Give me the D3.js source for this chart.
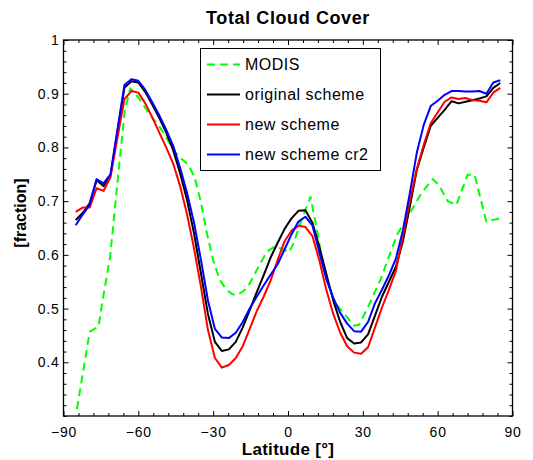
<!DOCTYPE html>
<html>
<head>
<meta charset="utf-8">
<script src="https://cdn.jsdelivr.net/npm/d3@7"></script>
<style>
  html, body { margin: 0; padding: 0; background: #fff; }
  svg { display: block; }
  text { font-family: "Liberation Sans", Arial, Helvetica, sans-serif; fill: #000; }
</style>
</head>
<body>
<div id="chart"></div>
<script>
// ---------------- data ----------------
const title = "Total Cloud Cover";
const xLabel = "Latitude [\u00B0]";
const yLabel = "[fraction]";
const seriesNames = ["MODIS", "original scheme", "new scheme", "new scheme cr2"];
const seriesColors = ["#00ff00", "#000000", "#ff0000", "#0000ff"];

const xTicks = [-90, -60, -30, 0, 30, 60, 90];
const yTicks = [0.4, 0.5, 0.6, 0.7, 0.8, 0.9, 1];

// model latitudes (T42 Gaussian grid)
const modelLat = [
  -85.10, -82.31, -79.53, -76.74, -73.95, -71.16, -68.37, -65.58, -62.79, -60.00,
  -57.21, -54.42, -51.63, -48.84, -46.04, -43.25, -40.46, -37.67, -34.88, -32.09,
  -29.30, -26.51, -23.72, -20.93, -18.14, -15.35, -12.56, -9.77, -6.98, -4.19,
  -1.40, 1.40, 4.19, 6.98, 9.77, 12.56, 15.35, 18.14, 20.93, 23.72,
  26.51, 29.30, 32.09, 34.88, 37.67, 40.46, 43.25, 46.04, 48.84, 51.63,
  54.42, 57.21, 60.00, 62.79, 65.58, 68.37, 71.16, 73.95, 76.74, 79.53,
  82.31, 85.10
];

const originalScheme = [
  0.665, 0.678, 0.696, 0.739, 0.728, 0.748, 0.830, 0.911, 0.923, 0.921,
  0.903, 0.880, 0.855, 0.828, 0.795, 0.752, 0.702, 0.640, 0.565, 0.490,
  0.438, 0.421, 0.424, 0.438, 0.465, 0.497, 0.530, 0.562, 0.595, 0.622,
  0.648, 0.668, 0.682, 0.683, 0.660, 0.615, 0.565, 0.515, 0.475, 0.445,
  0.435, 0.437, 0.452, 0.487, 0.522, 0.550, 0.578, 0.625, 0.690, 0.758,
  0.800, 0.840, 0.855, 0.870, 0.886, 0.882, 0.885, 0.888, 0.891, 0.895,
  0.911, 0.920
];

const newScheme = [
  0.680, 0.688, 0.688, 0.724, 0.719, 0.745, 0.818, 0.890, 0.905, 0.902,
  0.882, 0.856, 0.828, 0.800, 0.770, 0.728, 0.675, 0.612, 0.540, 0.460,
  0.408, 0.390, 0.395, 0.408, 0.430, 0.462, 0.495, 0.522, 0.552, 0.590,
  0.625, 0.645, 0.654, 0.652, 0.635, 0.590, 0.535, 0.490, 0.455, 0.430,
  0.418, 0.416, 0.428, 0.465, 0.502, 0.535, 0.570, 0.635, 0.700, 0.760,
  0.805, 0.845, 0.865, 0.885, 0.893, 0.890, 0.892, 0.888, 0.887, 0.884,
  0.902, 0.911
];

const newSchemeCr2 = [
  0.655, 0.675, 0.693, 0.741, 0.733, 0.750, 0.833, 0.916, 0.927, 0.924,
  0.907, 0.884, 0.860, 0.833, 0.803, 0.762, 0.715, 0.660, 0.590, 0.515,
  0.462, 0.446, 0.445, 0.455, 0.475, 0.500, 0.522, 0.543, 0.563, 0.582,
  0.610, 0.638, 0.662, 0.671, 0.655, 0.605, 0.555, 0.520, 0.492, 0.472,
  0.458, 0.457, 0.475, 0.510, 0.535, 0.562, 0.593, 0.645, 0.715, 0.790,
  0.842, 0.877, 0.887, 0.898, 0.905, 0.905, 0.904, 0.904, 0.905, 0.900,
  0.921, 0.925
];

// MODIS observations
const modisLat = [
  -84.6, -79.5, -76.0, -74.5, -71.3, -68.0, -65.4, -63.2, -60, -57,
  -54, -51, -48, -45, -42.5, -40, -37.5, -35, -32.5, -30,
  -27.5, -25, -22.5, -20.5, -18, -16, -12.5, -8.5, -5.5, -3,
  0.5, 2.5, 5, 9, 11.5, 14, 16.5, 19, 23.5, 26.5,
  28.5, 31.5, 37, 41.5, 44, 46, 49.5, 53.5, 58, 60.5,
  64, 67.5, 72, 74.8, 79.5, 85
];
const modis = [
  0.313, 0.457, 0.466, 0.510, 0.597, 0.752, 0.870, 0.910, 0.893, 0.872,
  0.853, 0.835, 0.812, 0.790, 0.778, 0.768, 0.745, 0.700, 0.640, 0.590,
  0.555, 0.537, 0.527, 0.525, 0.532, 0.541, 0.572, 0.606, 0.615, 0.612,
  0.605, 0.625, 0.660, 0.708, 0.650, 0.580, 0.540, 0.510, 0.485, 0.468,
  0.470, 0.497, 0.553, 0.610, 0.640, 0.655, 0.683, 0.715, 0.741, 0.730,
  0.700, 0.693, 0.749, 0.749, 0.662, 0.668
];

// ---------------- chart ----------------
const W = 533, H = 460;
const L = 63.5, R = 512.5, T = 40, B = 416;

const svg = d3.select("#chart").append("svg")
  .attr("width", W).attr("height", H);

const x = d3.scaleLinear().domain([-90, 90]).range([L, R]);
const y = d3.scaleLinear().domain([0.3, 1]).range([B, T]);

const xMinor = d3.range(-90, 90.1, 6).filter(v => !xTicks.includes(v));
const yMinor = d3.range(30, 100.1, 2).map(v => v / 100).filter(v => !yTicks.some(t => Math.abs(t - v) < 1e-6));

const fmtX = d => d < 0 ? "\u2212" + Math.abs(d) : String(d);
const fmtY = d => d === 1 ? "1" : d3.format(".1f")(d);

function styleAxis(g) {
  g.select(".domain").remove();
  g.selectAll(".tick line").attr("stroke", "#000").attr("stroke-width", 1);
  g.selectAll(".tick text").style("font-size", "14px").style("letter-spacing", "0.8px").attr("fill", "#000");
}

// bottom
svg.append("g").attr("transform", `translate(0,${B})`)
  .call(d3.axisBottom(x).tickValues(xTicks).tickSize(-5).tickPadding(11).tickFormat(fmtX)).call(styleAxis);
svg.append("g").attr("transform", `translate(0,${B})`)
  .call(d3.axisBottom(x).tickValues(xMinor).tickSize(-3).tickFormat("")).call(styleAxis);
// top
svg.append("g").attr("transform", `translate(0,${T})`)
  .call(d3.axisTop(x).tickValues(xTicks).tickSize(-5).tickFormat("")).call(styleAxis);
svg.append("g").attr("transform", `translate(0,${T})`)
  .call(d3.axisTop(x).tickValues(xMinor).tickSize(-3).tickFormat("")).call(styleAxis);
// left
svg.append("g").attr("transform", `translate(${L},0)`)
  .call(d3.axisLeft(y).tickValues(yTicks).tickSize(-5).tickPadding(4).tickFormat(fmtY)).call(styleAxis);
svg.append("g").attr("transform", `translate(${L},0)`)
  .call(d3.axisLeft(y).tickValues(yMinor).tickSize(-3).tickFormat("")).call(styleAxis);
// right
svg.append("g").attr("transform", `translate(${R},0)`)
  .call(d3.axisRight(y).tickValues(yTicks).tickSize(-5).tickFormat("")).call(styleAxis);
svg.append("g").attr("transform", `translate(${R},0)`)
  .call(d3.axisRight(y).tickValues(yMinor).tickSize(-3).tickFormat("")).call(styleAxis);

// frame
svg.append("rect").attr("x", L).attr("y", T).attr("width", R - L).attr("height", B - T)
  .attr("fill", "none").attr("stroke", "#000").attr("stroke-width", 1.3);

// lines
const series = [
  { name: seriesNames[0], lat: modisLat, val: modis, color: seriesColors[0], dash: "8,5" },
  { name: seriesNames[1], lat: modelLat, val: originalScheme, color: seriesColors[1], dash: null },
  { name: seriesNames[2], lat: modelLat, val: newScheme, color: seriesColors[2], dash: null },
  { name: seriesNames[3], lat: modelLat, val: newSchemeCr2, color: seriesColors[3], dash: null }
];

const line = d3.line().x(d => x(d[0])).y(d => y(d[1]));

series.forEach(s => {
  svg.append("path")
    .datum(s.lat.map((la, i) => [la, s.val[i]]))
    .attr("d", line)
    .attr("fill", "none")
    .attr("stroke", s.color)
    .attr("stroke-width", 2)
    .attr("stroke-linejoin", "round")
    .attr("stroke-dasharray", s.dash);
});

// legend
const lg = svg.append("g");
lg.append("rect").attr("x", 200.5).attr("y", 48.5).attr("width", 180).attr("height", 122)
  .attr("fill", "#fff").attr("stroke", "#000").attr("stroke-width", 1);
series.forEach((s, i) => {
  const yy = 64.5 + i * 30;
  lg.append("line").attr("x1", 207).attr("x2", 240).attr("y1", yy).attr("y2", yy)
    .attr("stroke", s.color).attr("stroke-width", 2).attr("stroke-dasharray", s.dash);
  lg.append("text").attr("x", 245).attr("y", yy).attr("dy", "0.35em")
    .style("font-size", "16px").style("letter-spacing", "0.5px").text(s.name);
});

// titles
svg.append("text").attr("x", 288).attr("y", 24).attr("text-anchor", "middle")
  .style("font-size", "18px").style("font-weight", "bold").style("letter-spacing", "0.6px").text(title);
svg.append("text").attr("x", 288).attr("y", 455).attr("text-anchor", "middle")
  .style("font-size", "17px").style("font-weight", "bold").style("letter-spacing", "0.3px").text(xLabel);
svg.append("text").attr("transform", "translate(26,213) rotate(-90)").attr("text-anchor", "middle")
  .style("font-size", "16px").style("font-weight", "bold").text(yLabel);
</script>
</body>
</html>
